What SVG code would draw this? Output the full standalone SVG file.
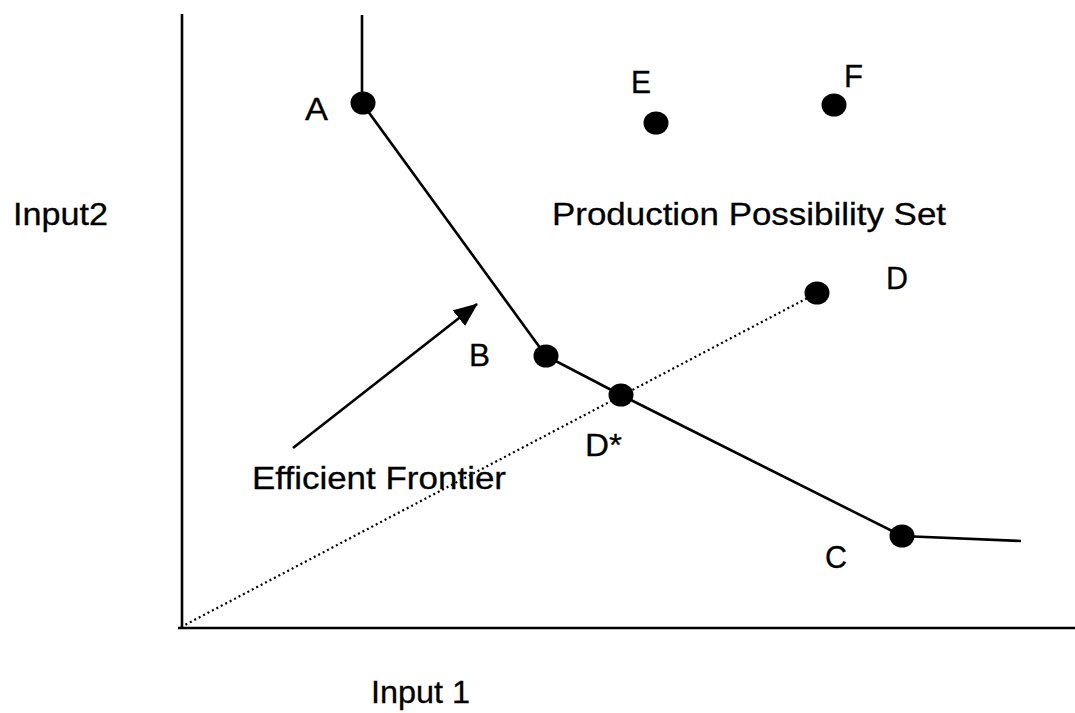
<svg xmlns="http://www.w3.org/2000/svg" width="1075" height="713" viewBox="0 0 1075 713">
<style>
.t{font-family:"Liberation Sans",Arial,sans-serif;font-size:32px;fill:#000;stroke:#000;stroke-width:0.3}
.ln{stroke:#000;stroke-width:2.6;fill:none;stroke-linecap:butt}
.dot{fill:#000}
.dt{stroke:#000;stroke-width:2.2;fill:none;stroke-dasharray:2 3}
</style>
<defs>
<marker id="ah2" viewBox="0 0 24 20" refX="23" refY="10" markerWidth="24" markerHeight="20" markerUnits="userSpaceOnUse" orient="auto">
<path d="M0,0 L24,10 L0,20 z" fill="#000"/>
</marker>
</defs>
<rect width="1075" height="713" fill="#fff"/>
<g id="axes">
<line class="ln" x1="182" y1="14" x2="182" y2="629"/>
<line class="ln" x1="178" y1="628" x2="1075" y2="628"/>
</g>
<g id="connectors">
<polyline class="ln" points="362,15 362,103 546,356 621,395 902,536 1021,541"/>
<line class="dt" x1="181" y1="627" x2="817" y2="293"/>
<line class="ln" x1="293" y1="448" x2="477" y2="304" marker-end="url(#ah2)"/>
</g>
<g id="nodeA"><ellipse class="dot" cx="363" cy="103" rx="12.5" ry="11.5"/><text class="t" x="305" y="120" textLength="23" lengthAdjust="spacingAndGlyphs">A</text></g>
<g id="nodeB"><ellipse class="dot" cx="546" cy="356" rx="12.5" ry="11.5"/><text class="t" x="469" y="366" textLength="21" lengthAdjust="spacingAndGlyphs">B</text></g>
<g id="nodeDstar"><ellipse class="dot" cx="621" cy="395" rx="12.5" ry="11.5"/><text class="t" x="585" y="456" textLength="37" lengthAdjust="spacingAndGlyphs">D*</text></g>
<g id="nodeC"><ellipse class="dot" cx="902" cy="536" rx="12.5" ry="11.5"/><text class="t" x="825" y="568" textLength="22" lengthAdjust="spacingAndGlyphs">C</text></g>
<g id="nodeD"><ellipse class="dot" cx="817" cy="293" rx="12.5" ry="11.5"/><text class="t" x="886" y="289" textLength="22" lengthAdjust="spacingAndGlyphs">D</text></g>
<g id="nodeE"><ellipse class="dot" cx="656" cy="123" rx="12.5" ry="11.5"/><text class="t" x="631" y="93" textLength="20" lengthAdjust="spacingAndGlyphs">E</text></g>
<g id="nodeF"><ellipse class="dot" cx="834" cy="105" rx="12.5" ry="11.5"/><text class="t" x="844" y="87" textLength="19" lengthAdjust="spacingAndGlyphs">F</text></g>
<g id="labels">
<text class="t" x="13" y="225" textLength="95" lengthAdjust="spacingAndGlyphs">Input2</text>
<text class="t" x="552" y="225" textLength="394" lengthAdjust="spacingAndGlyphs">Production Possibility Set</text>
<text class="t" x="252" y="489" textLength="254" lengthAdjust="spacingAndGlyphs">Efficient Frontier</text>
<text class="t" x="371" y="703" textLength="99" lengthAdjust="spacingAndGlyphs">Input 1</text>
</g>
</svg>
